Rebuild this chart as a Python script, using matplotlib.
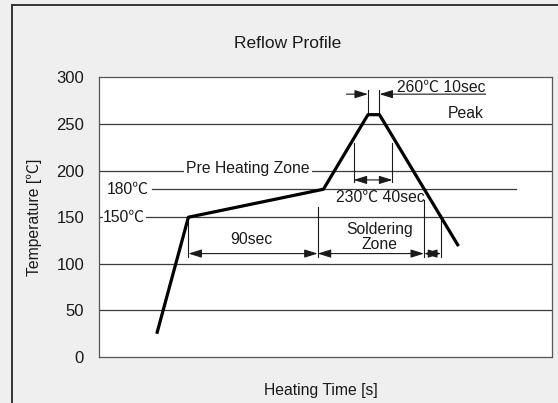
import matplotlib.pyplot as plt
from matplotlib.lines import Line2D

plt.rcParams["font.family"] = ["Liberation Sans", "Noto Sans CJK JP", "DejaVu Sans"]

# profile (time in s, temperature in degC)
time_s = [40, 62, 156, 187, 195, 250]
temp_c = [25, 150, 180, 260, 260, 119]

y_ticks = [0, 50, 100, 150, 200, 250, 300]
grid_levels = [50, 100, 150, 200, 250]

# dimension marks
preheat_start, preheat_end = 62, 152
cool_180, cool_150 = 226, 238
dim_level = 111
dim_bottom = 107
t230_left, t230_right = 177, 204
peak_left, peak_right = 187, 195

INK = "#1a1a1a"
BG = "#efefef"
FS = 11.3


def dim_arrow(ax, x0, x1, y):
    ax.annotate("", xy=(x1, y), xytext=(x0, y),
                arrowprops=dict(arrowstyle="<|-|>,head_length=0.8,head_width=0.25",
                                color=INK, lw=0.8, shrinkA=0, shrinkB=0))


def one_arrow(ax, x0, x1, y):
    ax.annotate("", xy=(x1, y), xytext=(x0, y),
                arrowprops=dict(arrowstyle="-|>,head_length=0.8,head_width=0.25",
                                color=INK, lw=0.8, shrinkA=0, shrinkB=0))


fig = plt.figure(figsize=(5.58, 4.03), dpi=100, facecolor=BG)
ax = fig.add_axes([0.178, 0.114, 0.811, 0.694])
ax.set_facecolor("white")

# outer frame (left and top edges visible)
fig.add_artist(Line2D([0.021, 0.021], [0.0, 0.988], transform=fig.transFigure,
                      color="#333333", lw=1.4))
fig.add_artist(Line2D([0.021, 1.0], [0.988, 0.988], transform=fig.transFigure,
                      color="#333333", lw=1.4))

for lv in grid_levels:
    ax.axhline(lv, color="#3a3a3a", lw=0.9, zorder=1)

ax.plot(time_s, temp_c, color="black", lw=2.3, solid_capstyle="butt", zorder=5)

# 180 degC level line
ax.plot([37, 290], [180, 180], color="#3a3a3a", lw=0.9, zorder=1)
ax.text(5.2, 180, "180\u2103", fontsize=FS, color=INK, va="center", ha="left")
ax.text(2.6, 150, "150\u2103", fontsize=FS, color=INK, va="center", ha="left",
        bbox=dict(facecolor="white", edgecolor="none", pad=0.3), zorder=3)
ax.text(60.5, 202, "Pre Heating Zone", fontsize=FS, color=INK, va="center", ha="left",
        bbox=dict(facecolor="white", edgecolor="none", pad=1.5), zorder=3)

# lower dimension lines
for xv, top in [(preheat_start, 150), (preheat_end, 161), (cool_180, 168), (cool_150, 152)]:
    ax.plot([xv, xv], [dim_bottom, top], color=INK, lw=0.8, zorder=4)
dim_arrow(ax, preheat_start, preheat_end, dim_level)
dim_arrow(ax, preheat_end, cool_180, dim_level)
dim_arrow(ax, cool_180, cool_150, dim_level)
ax.text(106, 126.5, "90sec", fontsize=FS, color=INK, ha="center", va="center")
ax.text(195, 128.5, "Soldering\nZone", fontsize=FS, color=INK, ha="center",
        va="center", linespacing=1.0)

# 230 degC 40 sec
for xv in (t230_left, t230_right):
    ax.plot([xv, xv], [187.5, 230], color=INK, lw=0.8, zorder=4)
dim_arrow(ax, t230_left, t230_right, 190)
ax.text(195.5, 171.5, "230\u2103 40sec", fontsize=FS, color=INK, ha="center", va="center")

# peak 260 degC 10 sec
for xv in (peak_left, peak_right):
    ax.plot([xv, xv], [260, 286], color=INK, lw=0.8, zorder=4)
one_arrow(ax, 172, peak_left, 282)
one_arrow(ax, 269, peak_right, 282)
ax.text(207, 289, "260\u2103 10sec", fontsize=FS, color=INK, ha="left", va="center")
ax.text(255, 261.5, "Peak", fontsize=FS, color=INK, ha="center", va="center")

ax.set_xlim(0, 315)
ax.set_ylim(0, 300)
ax.set_xticks([])
ax.set_yticks(y_ticks)
ax.tick_params(axis="y", length=0, pad=11, labelsize=12, labelcolor=INK)
for sp in ax.spines.values():
    sp.set_color("#555555")
    sp.set_linewidth(0.9)

ax.set_ylabel("Temperature [\u2103]", fontsize=FS, color=INK)
ax.yaxis.set_label_coords(-0.127, 0.5)
ax.set_xlabel("Heating Time [s]", fontsize=FS, color=INK)
ax.xaxis.set_label_coords(0.489, -0.093)
fig.text(0.516, 0.893, "Reflow Profile", fontsize=12.5, color=INK, ha="center", va="center")

fig.savefig("out.png", dpi=100, facecolor=BG)
